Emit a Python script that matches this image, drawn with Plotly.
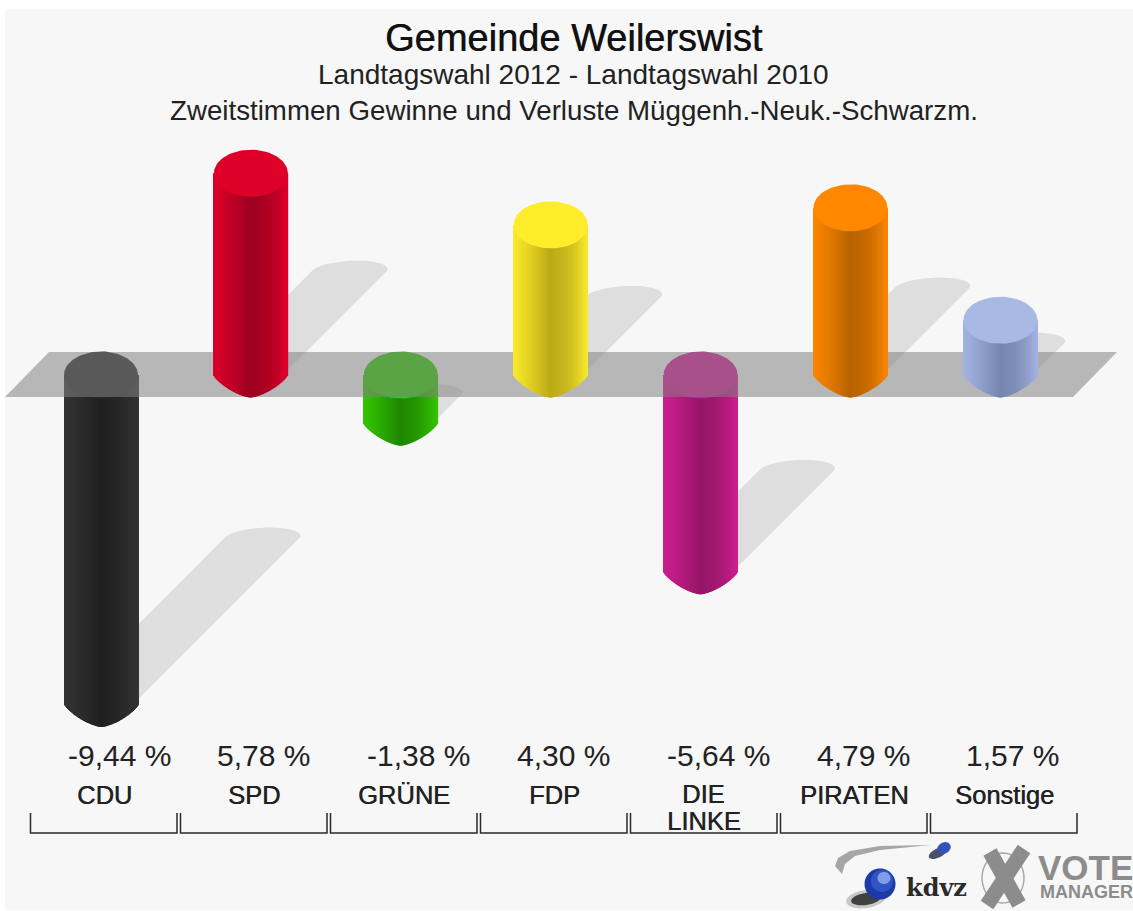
import numpy as np
import plotly.graph_objects as go

TITLE = "Gemeinde Weilerswist"
SUBTITLE_1 = "Landtagswahl 2012 - Landtagswahl 2010"
SUBTITLE_2 = "Zweitstimmen Gewinne und Verluste Müggenh.-Neuk.-Schwarzm."
CATEGORIES = ["CDU", "SPD", "GRÜNE", "FDP", "DIE<br>LINKE", "PIRATEN", "Sonstige"]
VALUES = [-9.44, 5.78, -1.38, 4.30, -5.64, 4.79, 1.57]
CAP_COLORS = ["#2b2b2b", "#de0029", "#2ecc00", "#ffec2a", "#d51694", "#ff8800", "#a9b9e6"]
EDGE_COLORS = ["#333333", "#dc0029", "#33c400", "#f9e92a", "#cc1e8c", "#f98500", "#a2b3e2"]
CORE_COLORS = ["#1f1f1f", "#9c0020", "#1d8600", "#bda916", "#951568", "#b86200", "#7686b0"]

W, H = 1133, 911
CX0, DX = 101.0, 149.9
Y0, SCALE = 375.0, 34.9
RX, RY = 37.0, 22.5
SHADOW = 17.1
INK = "#222222"
FONT = "Liberation Sans"


def data_x(px):
    return (px - CX0) / DX


def data_y(py):
    return (Y0 - py) / SCALE


def px(x):
    return x / W


def py(y):
    return 1 - y / H


def hex_rgb(c):
    return np.array([int(c[i:i + 2], 16) for i in (1, 3, 5)], dtype=float)


def shade(i, u):
    t = (1 - abs(u)) ** 1.2
    c = hex_rgb(EDGE_COLORS[i]) * (1 - t) + hex_rgb(CORE_COLORS[i]) * t
    if u > 0:
        c = c * (1 - 0.08 * np.sin(np.pi * u))
    r, g, b = [int(round(v)) for v in c]
    return f"rgb({r},{g},{b})"


def profile(u):
    return RY * (1 - abs(u) ** 1.5) ** 0.8 / SCALE


fig = go.Figure()
strip_edges = np.arange(-RX, RX, 1.0)
neg = [i for i, v in enumerate(VALUES) if v < 0]
pos = [i for i, v in enumerate(VALUES) if v >= 0]

# cylinder bodies: every column is a bar that starts/ends from the value
for left in strip_edges:
    u = (left + 0.5) / RX
    off = left / DX
    wid = 1.3 / DX
    e = profile(u)
    fig.add_trace(go.Bar(
        x=neg, y=[VALUES[i] - e for i in neg], base=0, width=wid, offset=off,
        marker=dict(color=[shade(i, u) for i in neg], line=dict(width=0)),
        hoverinfo="skip", showlegend=False, yaxis="y"))
    fig.add_trace(go.Bar(
        x=pos, y=[VALUES[i] + e for i in pos], base=-e, width=wid, offset=off,
        marker=dict(color=[shade(i, u) for i in pos], line=dict(width=0)),
        hoverinfo="skip", showlegend=False, yaxis="y2"))

theta = np.linspace(0, 2 * np.pi, 90)


def add_cap(i, axis):
    fig.add_trace(go.Scatter(
        x=i + RX / DX * np.cos(theta),
        y=(VALUES[i] if VALUES[i] > 0 else 0) + 23.5 / SCALE * np.sin(theta),
        mode="lines", fill="toself", fillcolor=CAP_COLORS[i], line=dict(width=0),
        hoverinfo="skip", showlegend=False, yaxis=axis))


for i in neg:
    add_cap(i, "y")

# the translucent zero plane: above the falling bars, below the rising ones
fig.add_trace(go.Scatter(
    x=[data_x(v) for v in (5, 49, 1117, 1073, 5)],
    y=[data_y(v) for v in (397, 352, 352, 397, 397)],
    mode="lines", fill="toself", fillcolor="rgba(130,130,130,0.54)", line=dict(width=0),
    hoverinfo="skip", showlegend=False, yaxis="y"))

for i in pos:
    add_cap(i, "y2")

# category brackets
bx, by = [], []
for i in range(len(VALUES)):
    l = 30.5 + 150 * i
    r = l + 146.5
    bx += [data_x(l), data_x(l), data_x(r), data_x(r), None]
    by += [data_y(813), data_y(833), data_y(833), data_y(813), None]
fig.add_trace(go.Scatter(x=bx, y=by, mode="lines", line=dict(color="#2a2a2a", width=1.5),
                         hoverinfo="skip", showlegend=False, yaxis="y"))

shapes = [dict(type="rect", xref="paper", yref="paper", x0=px(5), x1=1, y0=py(910.5), y1=py(9),
               fillcolor="#f7f7f7", line=dict(width=0), layer="below")]

# shadows, sheared from the foot of each cylinder
for i, v in enumerate(VALUES):
    s = SHADOW * abs(v)
    xr = CX0 + DX * i + RX
    ya = Y0 + (SCALE * abs(v) if v < 0 else 0) - 5
    pts = [(xr - 75, ya), (xr, ya), (xr + s, ya - s)]
    for a in np.linspace(0, np.pi, 30):
        pts.append((xr + s - 37.5 + 37.5 * np.cos(a) + 8 * np.sin(a),
                    ya - s - 10.5 * np.sin(a)))
    path = "M " + " L ".join(f"{data_x(a):.4f} {data_y(b):.4f}" for a, b in pts) + " Z"
    shapes.append(dict(type="path", xref="x", yref="y", path=path, fillcolor="#dedede",
                       line=dict(width=0), layer="below"))


def paper_path(points):
    return "M " + " L ".join(f"{px(a):.5f} {py(b):.5f}" for a, b in points) + " Z"


def ell(cx, cy, rx, ry, rot=0.0, n=40):
    out = []
    for a in np.linspace(0, 2 * np.pi, n):
        xx, yy = rx * np.cos(a), ry * np.sin(a)
        out.append((cx + xx * np.cos(rot) - yy * np.sin(rot), cy + xx * np.sin(rot) + yy * np.cos(rot)))
    return out


def logo(points, color, opacity=1.0):
    shapes.append(dict(type="path", xref="paper", yref="paper", path=paper_path(points),
                       fillcolor=color, line=dict(width=0), opacity=opacity, layer="below"))


# kdvz swoosh, blob and shadows
swoosh = [(842, 874), (835, 866), (838, 858), (850, 851), (880, 846), (931, 845),
          (880, 850), (855, 856), (845, 864)]
logo(swoosh, "#a6a6a6")
logo(ell(938, 853, 10, 4.5, -0.45), "#20263f", 0.8)
logo(ell(944, 848, 7, 5.5, -0.5), "#2f55b8")
logo(ell(866, 899, 20, 9, -0.15), "#999999", 0.5)
logo(ell(866, 899, 15, 6, -0.15), "#1f1f1f", 0.8)
logo(ell(880, 884, 15.5, 15.5), "#1c3ba6")
logo(ell(882, 881, 11, 11), "#2f55c4")
logo(ell(884, 878, 6.5, 6), "#7f9de8")

# VOTE MANAGER X mark
shapes.append(dict(type="path", xref="paper", yref="paper",
                   path=paper_path(ell(1003, 878, 21, 25)), fillcolor="rgba(0,0,0,0)",
                   line=dict(color="#aaaaaa", width=1.5), layer="below"))
for a, b in (((1024, 849), (987, 905)), ((990, 852), (1019, 904))):
    shapes.append(dict(type="line", xref="paper", yref="paper", x0=px(a[0]), y0=py(a[1]),
                       x1=px(b[0]), y1=py(b[1]), line=dict(color="#8c8c8c", width=15), layer="below"))


def note(text, x, y, size, color=INK, family=FONT, shadow=None):
    font = dict(family=family, size=size, color=color)
    if shadow:
        font["shadow"] = shadow
    return dict(text=text, x=px(x), y=py(y), xref="paper", yref="paper", showarrow=False,
                xanchor="center", yanchor="middle", font=font, align="center")


BOLDISH = "0.5px 0 0.4px #333333"
annotations = [
    note(TITLE, 574, 38, 38, "#111111", shadow=BOLDISH),
    note(SUBTITLE_1, 573, 75, 28),
    note(SUBTITLE_2, 574, 110, 27.7),
    note("<b>kdvz</b>", 937, 887, 24, "#2a2a2a", "DejaVu Serif"),
    note("<b>VOTE</b>", 1085, 867, 35, "#8c8c8c"),
    note("<b>MANAGER</b>", 1086, 892, 18, "#8c8c8c"),
]
for i, (c, v) in enumerate(zip(CATEGORIES, VALUES)):
    label = f"{v:.2f}".replace(".", ",") + " %"
    annotations.append(note(label, CX0 + DX * i + (18 if v < 0 else 12.5), 755, 30))
    if "<br>" in c:
        a, b = c.split("<br>")
        annotations.append(note(a, 104 + 150 * i, 794, 25.5, shadow=BOLDISH))
        annotations.append(note(b, 104 + 150 * i, 821, 25.5, shadow=BOLDISH))
    else:
        annotations.append(note(c, 104 + 150 * i, 795, 25.5, shadow=BOLDISH))

yr = [data_y(H), data_y(0)]
axis = dict(visible=False, fixedrange=True, showgrid=False, zeroline=False)
fig.update_layout(
    width=W, height=H, margin=dict(l=0, r=0, t=0, b=0), autosize=False,
    paper_bgcolor="#ffffff", plot_bgcolor="rgba(0,0,0,0)",
    barmode="overlay", showlegend=False,
    xaxis=dict(range=[data_x(0), data_x(W)], **axis),
    yaxis=dict(range=yr, **axis),
    yaxis2=dict(range=yr, overlaying="y", **axis),
    shapes=shapes, annotations=annotations,
)

fig.write_html("out.html", config=dict(displayModeBar=False),
               post_script="document.body.style.margin='0';document.body.style.overflow='hidden';")
